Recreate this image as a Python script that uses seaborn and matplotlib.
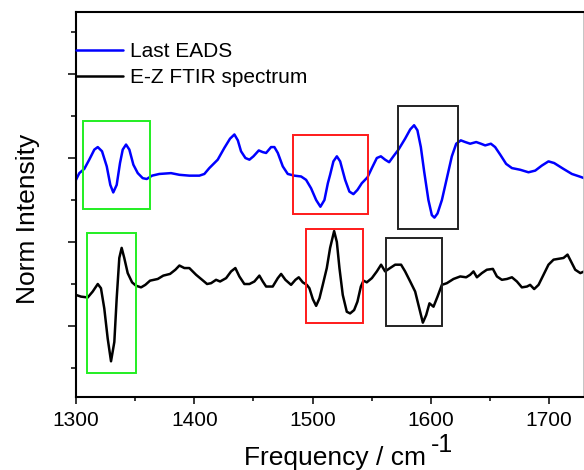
import matplotlib
matplotlib.use("Agg")
import matplotlib.pyplot as plt
from matplotlib.patches import Rectangle
from matplotlib.ticker import MultipleLocator, NullFormatter
import seaborn as sns

# ---- data ----
series_labels = ["Last EADS", "E-Z FTIR spectrum"]

eads_freq = [1300.0, 1302.8, 1307.0, 1311.2, 1315.5, 1318.4, 1322.0, 1326.0, 1329.0, 1331.5,
             1334.4, 1337.2, 1339.5, 1342.3, 1345.1, 1348.5, 1352.2, 1356.4, 1359.8, 1364.3,
             1370.4, 1380.3, 1387.4, 1395.8, 1404.3, 1408.5, 1412.7, 1419.8, 1425.4, 1430.2,
             1433.9, 1436.8, 1439.5, 1443.2, 1446.6, 1450.0, 1454.5, 1457.9, 1460.7, 1464.9,
             1467.7, 1470.6, 1474.8, 1479.0, 1484.6, 1490.3, 1494.5, 1498.7, 1503.0, 1506.6,
             1510.0, 1512.9, 1514.8, 1517.6, 1520.5, 1523.3, 1527.5, 1531.1, 1534.5, 1537.9,
             1541.6, 1546.4, 1550.1, 1554.3, 1557.7, 1561.3, 1564.7, 1568.3, 1572.6, 1578.2,
             1582.5, 1585.8, 1588.6, 1591.5, 1594.3, 1597.9, 1600.8, 1603.0, 1605.6, 1609.3,
             1613.5, 1617.7, 1621.4, 1625.3, 1629.0, 1633.2, 1638.3, 1642.3, 1645.9, 1650.7,
             1654.3, 1658.6, 1663.6, 1668.5, 1675.5, 1682.5, 1688.2, 1693.8, 1699.4, 1704.2,
             1712.1, 1719.2, 1725.6, 1729.6]
eads_int = [1.74, 1.82, 1.87, 1.98, 2.10, 2.13, 2.08, 1.90, 1.68, 1.59,
            1.68, 1.94, 2.10, 2.16, 2.10, 1.92, 1.82, 1.76, 1.75, 1.79,
            1.81, 1.82, 1.80, 1.79, 1.79, 1.81, 1.88, 1.98, 2.12, 2.23,
            2.28, 2.21, 2.08, 2.00, 1.98, 2.02, 2.09, 2.07, 2.06, 2.13,
            2.13, 2.06, 1.90, 1.81, 1.79, 1.78, 1.74, 1.64, 1.50, 1.42,
            1.50, 1.70, 1.80, 1.96, 2.02, 1.96, 1.74, 1.60, 1.57, 1.62,
            1.70, 1.77, 1.88, 2.00, 2.02, 1.98, 1.95, 2.02, 2.10, 2.23,
            2.34, 2.39, 2.33, 2.13, 1.84, 1.50, 1.32, 1.29, 1.34, 1.50,
            1.76, 2.02, 2.17, 2.21, 2.19, 2.17, 2.19, 2.17, 2.15, 2.17,
            2.13, 2.04, 1.93, 1.88, 1.86, 1.83, 1.85, 1.91, 1.96, 1.94,
            1.87, 1.81, 1.78, 1.76]

ftir_freq = [1300.0, 1304.2, 1309.9, 1314.1, 1318.4, 1321.1, 1323.9, 1326.8, 1329.6, 1332.4,
             1334.4, 1336.6, 1338.6, 1340.8, 1343.7, 1347.4, 1350.7, 1355.0, 1358.6, 1362.6,
             1369.1, 1373.8, 1379.5, 1384.0, 1387.4, 1391.6, 1395.8, 1401.5, 1406.6, 1410.8,
             1414.2, 1418.4, 1421.8, 1426.9, 1431.1, 1434.7, 1438.1, 1442.3, 1446.6, 1450.8,
             1455.0, 1457.9, 1460.7, 1466.3, 1470.6, 1473.4, 1477.0, 1481.8, 1485.5, 1488.3,
             1491.7, 1495.1, 1497.3, 1500.2, 1503.0, 1505.8, 1508.6, 1512.0, 1514.8, 1518.2,
             1520.5, 1522.7, 1525.5, 1528.9, 1531.7, 1535.1, 1537.9, 1540.8, 1543.0, 1545.8,
             1550.1, 1554.3, 1557.9, 1561.3, 1565.5, 1569.8, 1574.8, 1578.2, 1582.5, 1586.7,
             1589.5, 1593.2, 1596.0, 1598.8, 1602.2, 1605.6, 1609.3, 1613.5, 1619.1, 1624.8,
             1629.8, 1633.2, 1636.0, 1638.9, 1643.1, 1647.3, 1652.4, 1655.8, 1660.0, 1664.3,
             1668.5, 1672.7, 1676.9, 1681.2, 1683.9, 1687.3, 1691.0, 1695.2, 1699.4, 1703.7,
             1707.9, 1712.1, 1715.5, 1718.4, 1722.0, 1726.3, 1729.6]
ftir_int = [0.37, 0.35, 0.34, 0.41, 0.50, 0.45, 0.21, -0.15, -0.42, -0.19,
            0.33, 0.81, 0.93, 0.81, 0.63, 0.52, 0.48, 0.46, 0.49, 0.54,
            0.56, 0.60, 0.62, 0.67, 0.72, 0.69, 0.69, 0.61, 0.55, 0.50,
            0.51, 0.55, 0.53, 0.57, 0.65, 0.69, 0.59, 0.50, 0.50, 0.53,
            0.60, 0.53, 0.47, 0.47, 0.57, 0.62, 0.55, 0.49, 0.55, 0.58,
            0.52, 0.49, 0.45, 0.32, 0.24, 0.33, 0.49, 0.69, 0.93, 1.13,
            1.00, 0.69, 0.37, 0.17, 0.15, 0.19, 0.29, 0.47, 0.54, 0.52,
            0.57, 0.65, 0.73, 0.65, 0.69, 0.73, 0.73, 0.65, 0.53, 0.41,
            0.25, 0.04, 0.13, 0.27, 0.23, 0.35, 0.49, 0.51, 0.56, 0.59,
            0.58, 0.61, 0.65, 0.58, 0.63, 0.67, 0.68, 0.59, 0.55, 0.56,
            0.58, 0.53, 0.46, 0.47, 0.49, 0.44, 0.49, 0.61, 0.73, 0.79,
            0.80, 0.81, 0.85, 0.77, 0.67, 0.63, 0.65]

# highlighted band regions (frequency range and intensity range)
box_f0 = [1306.2, 1483.8, 1572.0, 1309.3, 1494.5, 1561.9]
box_f1 = [1362.6, 1546.7, 1622.8, 1350.7, 1543.0, 1609.8]
box_i0 = [1.39, 1.33, 1.16, -0.56, 0.04, 0.00]
box_i1 = [2.44, 2.27, 2.62, 1.11, 1.155, 1.044]
box_colors = ["#22ee22", "#ff1a1a", "#222222", "#22ee22", "#ff1a1a", "#222222"]

sns.set_theme(style="ticks", rc={
    "axes.edgecolor": "black",
    "xtick.color": "black",
    "ytick.color": "black",
    "text.color": "black",
    "axes.labelcolor": "black",
})
plt.rcParams["font.family"] = ["Liberation Sans", "DejaVu Sans"]

fig = plt.figure(figsize=(5.84, 4.70), dpi=100)
ax = fig.add_axes([76 / 584, 1 - 397 / 470, 507.5 / 584, 385 / 470])

line_kw = dict(lw=1.8, solid_joinstyle="round", solid_capstyle="round")
sns.lineplot(x=eads_freq, y=eads_int, color="#0000ff", label=series_labels[0], ax=ax, **line_kw)
sns.lineplot(x=ftir_freq, y=ftir_int, color="black", label=series_labels[1], ax=ax, **line_kw)

for f0, f1, i0, i1, c in zip(box_f0, box_f1, box_i0, box_i1, box_colors):
    ax.add_patch(Rectangle((f0, i0), f1 - f0, i1 - i0, fill=False, edgecolor=c, lw=1.4, zorder=3))

ax.set_xlim(1300, 1729)
ax.set_ylim(-0.845, 3.738)
ax.xaxis.set_major_locator(MultipleLocator(100))
ax.xaxis.set_minor_locator(MultipleLocator(50))
ax.yaxis.set_major_locator(MultipleLocator(1))
ax.yaxis.set_minor_locator(MultipleLocator(0.5))
ax.yaxis.set_major_formatter(NullFormatter())

for side in ["left", "bottom", "top"]:
    ax.spines[side].set_linewidth(1.5)
ax.spines["right"].set_linewidth(1.2)
ax.spines["right"].set_color("#bbbbbb")

ax.tick_params(axis="x", which="major", length=5, width=1.1, pad=5, labelsize=15, top=False)
ax.tick_params(axis="x", which="minor", length=3, width=1.1, top=False)
ax.tick_params(axis="y", which="major", length=6, width=1.1, right=False)
ax.tick_params(axis="y", which="minor", length=3.6, width=1.1, right=False)

ax.set_xlabel("Frequency / cm", fontsize=19)
ax.xaxis.set_label_coords((335 - 76) / 507.5, (397 - 446) / 385)
ax.xaxis.label.set_verticalalignment("top")
ax.text((431 - 76) / 507.5, (397 - 452) / 385, "-1", fontsize=18,
        ha="left", va="baseline", transform=ax.transAxes, clip_on=False)

ax.set_ylabel("Norm Intensity", fontsize=19)
ax.yaxis.set_label_coords((40 - 76) / 507.5, (397 - 219) / 385)

ax.legend(loc="upper left", bbox_to_anchor=(0, (397 - 42) / 385), frameon=False,
          borderaxespad=0, borderpad=0, fontsize=15, handlelength=2.26,
          handletextpad=0.34, labelspacing=0.34)

fig.savefig("out.png", dpi=100)
